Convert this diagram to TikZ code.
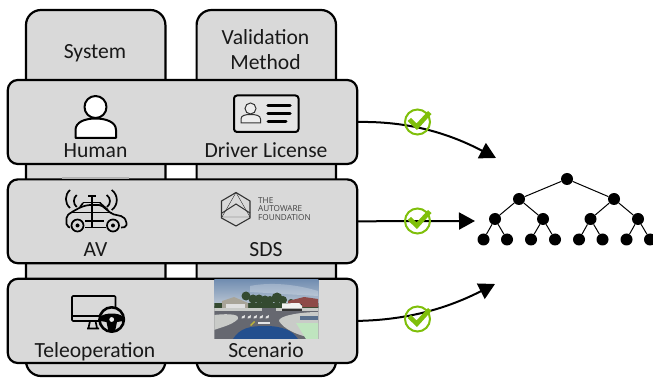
\documentclass[tikz,border=0pt]{standalone}
\usepackage{fontspec}
\setmainfont{Carlito}
\newfontfamily\logofont{Open Sans}
\usetikzlibrary{arrows.meta,shadings}
\definecolor{panel}{HTML}{D9D9D9}
\definecolor{okgreen}{HTML}{7FBF0A}
\definecolor{skytop}{HTML}{6F8CB0}
\definecolor{skylow}{HTML}{C4CDD8}
\definecolor{treec}{HTML}{344A30}
\definecolor{roadc}{HTML}{666870}
\definecolor{walkc}{HTML}{C9CBC8}
\definecolor{hoodc}{HTML}{234F8E}
\definecolor{roofc}{HTML}{8E4A48}
\definecolor{housec}{HTML}{A8A498}
\tikzset{
  x=1pt,y=-1pt,
  column/.style={draw=black,line width=2.2pt,fill=panel,rounded corners=15pt,minimum width=139.4pt,inner sep=0pt,outer sep=0pt,anchor=north west},
  band/.style={draw=black,line width=2.2pt,fill=panel,rounded corners=10pt,minimum width=349.4pt,inner sep=0pt,outer sep=0pt,anchor=north west},
  lab/.style={font=\fontsize{21.6}{25}\selectfont,text=black!90,inner sep=0pt,align=center,anchor=base},
  link/.style={line width=2pt,-{Triangle[length=16pt,width=17pt]}},
  ring/.style={circle,draw=okgreen,line width=2pt,fill=none,minimum size=25pt,inner sep=0pt},
  dot/.style={circle,fill=black,minimum size=12pt,inner sep=0pt},
  branch/.style={line width=1pt},
  icon/.style={line width=2pt,draw=black,line join=round},
  thin icon/.style={line width=1.7pt,draw=black,line join=round},
}
\begin{document}
\begin{tikzpicture}
\useasboundingbox (0,0) rectangle (653,379);
% columns
\node[column,minimum height=366pt] (sys) at (26,10) {};
\node[column,minimum height=366pt] (val) at (196.6,10) {};
% bands
\node[band,minimum height=84pt] (b1) at (7.8,80) {};
\node[band,minimum height=83.8pt] (b2) at (7.8,179.4) {};
\node[band,minimum height=84.2pt] (b3) at (7.8,278.8) {};
\fill[black!30] (62,177) rectangle (129,178.8);
% labels
\node[lab] (tsys) at (95,58.2) {System};
\node[lab,anchor=center] (tval) at (265.5,49.5) {Validation\\[0.5pt]Method};
\node[lab] (thum) at (95.5,157.6) {Human};
\node[lab] (tdl) at (266,158) {Driver License};
\node[lab] (tav) at (95.5,257) {AV};
\node[lab] (tsds) at (266,257) {SDS};
\node[lab] (ttel) at (95,357.2) {Teleoperation};
\node[lab] (tsce) at (266,357) {Scenario};
% human icon
\draw[icon,fill=white] (75.5,138) -- (75.5,130) .. controls (75.5,122) and (85,118.5) .. (95.5,118.5) .. controls (106,118.5) and (116,122) .. (116,130) -- (116,138) -- cycle;
\draw[icon,fill=white] (95.5,107) circle (11);
% licence icon
\draw[icon,fill=black!10,rounded corners=3pt] (234,95.5) rectangle (298.5,132);
\draw[line width=1pt,black!80,fill=black!7] (241,123) -- (241,119) .. controls (241,115.5) and (245,114.5) .. (250.5,114.5) .. controls (256,114.5) and (260.5,115.5) .. (260.5,119) -- (260.5,123) -- cycle;
\draw[line width=1pt,black!80,fill=black!7] (250.5,108.5) circle (5.5);
\draw[line width=3.5pt,line cap=round] (268,105.5) -- (290,105.5);
\draw[line width=3.5pt,line cap=round] (268,113.5) -- (290,113.5);
\draw[line width=3pt,line cap=round] (268,121.5) -- (286,121.5);
% AV icon
\begin{scope}[thin icon]
\draw[rounded corners=2pt] (70,227.5) -- (66.5,226) -- (66.5,216) -- (71,212.5) -- (81,207) -- (88,205) -- (101,205) -- (112,214) -- (123,216.5) -- (126.5,221) -- (126.5,227) -- (121,227.5);
\draw (85,227.5) -- (106,227.5);
\draw (70,212.5) -- (112,212.5);
\draw (85,221) -- (104,221);
\draw (91.7,196) -- (91.7,227.5);
\draw (88,196) -- (95.5,196) (83,202.5) -- (100.5,202.5);
\draw (83,203) -- (80,207) (100,203) -- (108,210);
\draw[fill=panel] (77.5,225.5) circle (6);
\draw[fill=panel] (113,225.5) circle (6);
\fill (77.5,225.5) circle (2) (113,225.5) circle (2);
\draw (70,190) .. controls (64.5,195) and (64.5,203) .. (70,208);
\draw (76.7,195) .. controls (73,198) and (73,204) .. (76.7,207);
\draw (111.7,190) .. controls (118.5,195) and (118.5,205) .. (111.7,210);
\draw (106.7,195) .. controls (111,198) and (111,204) .. (107,207);
\end{scope}
% Autoware logo
\begin{scope}[black!80]
\draw[line width=1.1pt] (236,192.5) -- (250,201) -- (250,218) -- (236,226) -- (221.5,218) -- (221.5,201) -- cycle;
\draw[line width=.4pt] (236,192.5) -- (222,217) -- (250,217) -- cycle;
\draw[line width=1pt] (222,213) -- (236,204) -- (250,213);
\end{scope}
\node[font=\logofont\fontsize{8.2}{8.6}\selectfont,text=black!75,align=left,anchor=west,inner sep=0pt] (logo) at (258,209) {THE\\AUTOWARE\\FOUNDATION};
% teleoperation icon
\draw[thin icon,rounded corners=1pt] (72,296) rectangle (115.5,321);
\draw[thin icon] (72,316) -- (115.5,316);
\draw[thin icon] (90,321) -- (88.5,328) (95.5,321) -- (97,328) (87,328.5) -- (99,328.5);
\draw[icon,fill=panel,line width=2.6pt] (111.7,319.5) circle (12.2);
\fill (100.5,316.5) .. controls (105.5,312.5) and (118,312.5) .. (123,316.5) -- (123,321) -- (117,322) -- (115,331.5) -- (108.5,331.5) -- (106.5,322) -- (100.5,321) -- cycle;
\fill[panel!50!white] (111.7,319.5) circle (2.4);
% scenario image
\begin{scope}
\clip (214.3,279.5) rectangle (318.3,338.3);
\shade[top color=skytop,bottom color=skylow] (214,279) rectangle (319,308);
\fill[white,opacity=.25] (250,286) .. controls (270,282) and (295,284) .. (318,291) -- (318,296) -- (250,292) -- cycle;
\fill[roadc] (214,306) rectangle (319,339);
\foreach \cx/\cy/\cr in {246/296/4.5,253/299/4.5,259/299/4.5,265/300/4.5,270/300/4,277/298/5.5,283/300/4,291/302/3}
  \fill[treec] (\cx,\cy) circle (\cr);
\fill[treec] (214,303) rectangle (319,308);
\fill[housec] (222,301) -- (234,297) -- (248,303) -- (248,309) -- (222,309) -- cycle;
\fill[black!12] (226,304) rectangle (245,309);
\fill[roofc] (288,301) -- (304,297) -- (318,299) -- (318,307) -- (288,307) -- cycle;
\fill[walkc] (214,308) -- (262,308) -- (262,311) -- (214,311) -- cycle;
\fill[walkc] (276,308) -- (318,308) -- (318,311) -- (276,311) -- cycle;
\fill[walkc] (214,315) .. controls (232,313) and (240,315) .. (238,319) .. controls (232,325) and (222,327) .. (214,330) -- cycle;
\fill[walkc] (318,312) .. controls (300,312) and (278,316) .. (279,321) .. controls (283,328) and (296,336) .. (318,339) -- cycle;
\fill[black!40!green!25!white] (296,323) -- (318,323) -- (318,339) -- (306,339) -- cycle;
\fill[skytop!80!black] (300,316) rectangle (318,320);
\fill[black!80] (282,304) rectangle (302,310.5);
\fill[black!5] (282,303.5) -- (299,303) -- (302,306) -- (302,308.5) -- (282,308.5) -- cycle;
\foreach \sx in {242,248,254,260,266}
  \fill[white!90!black] (\sx,316.5) -- (\sx+3,315) -- (\sx+2.5,318) -- (\sx-.5,318.5) -- cycle;
\fill[white!90!black] (258,322) rectangle (270,323.5);
\fill[yellow!70!black] (250,325) -- (254,321) -- (255,322) -- (251,326) -- cycle;
\fill[hoodc] (233,339) .. controls (240,328) and (250,326) .. (265,326) .. controls (282,326) and (292,330) .. (298,339) -- cycle;
\end{scope}
% tree
\node[dot] (r) at (567,179) {};
\node[dot] (l) at (519,199) {};
\node[dot] (R) at (614,199) {};
\node[dot] (ll) at (495,219) {};
\node[dot] (lr) at (543,219) {};
\node[dot] (rl) at (590.5,219) {};
\node[dot] (rr) at (638,219) {};
\node[dot] (a1) at (483.5,239.5) {};
\node[dot] (a2) at (507,239.5) {};
\node[dot] (a3) at (531,239.5) {};
\node[dot] (a4) at (555,239.5) {};
\node[dot] (a5) at (579,239.5) {};
\node[dot] (a6) at (602.5,239.5) {};
\node[dot] (a7) at (626.5,239.5) {};
\node[dot] (a8) at (650,239.5) {};
\foreach \p/\c in {r/l,r/R,l/ll,l/lr,R/rl,R/rr,ll/a1,ll/a2,lr/a3,lr/a4,rl/a5,rl/a6,rr/a7,rr/a8}
  \draw[branch] (\p) -- (\c);
% connectors
\coordinate (e1) at (496,158);
\coordinate (e2) at (475,221);
\coordinate (e3) at (495,284);
\draw[link] (b1.east) .. controls (410,121) and (450,134) .. (e1);
\draw[link] (b2.east) -- (e2);
\draw[link] (b3.east) .. controls (410,320) and (450,307) .. (e3);
% checks
\foreach \n/\yy in {c1/122,c2/221,c3/319}{
  \node[ring] (\n) at (417.5,\yy) {};
  \fill[okgreen] (407.5,\yy-1) -- (411,\yy-4) -- (416.5,\yy+1.5) -- (428,\yy-11) -- (431.5,\yy-8) -- (417,\yy+8) -- cycle;
}
\end{tikzpicture}
\end{document}
